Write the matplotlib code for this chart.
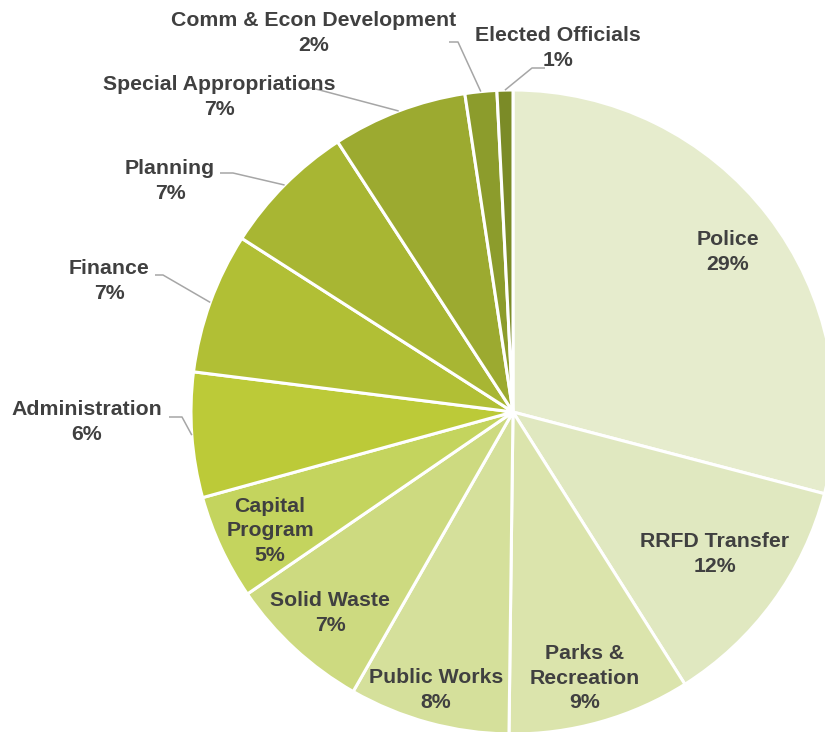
import numpy as np
import matplotlib
matplotlib.use("Agg")
import matplotlib.pyplot as plt

# departments, clockwise from 12 o'clock
departments = ["Police", "RRFD Transfer", "Parks &\nRecreation", "Public Works",
               "Solid Waste", "Capital\nProgram", "Administration", "Finance",
               "Planning", "Special Appropriations", "Comm & Econ Development",
               "Elected Officials"]
shares = [29.2, 12.0, 9.2, 8.1, 7.2, 5.3, 6.3, 7.1, 6.8, 6.8, 1.6, 0.8]
colors = ["#E6ECCD", "#E0E8C0", "#DBE4AC", "#D5E09B", "#CDDA80", "#C4D45E",
          "#BCCA38", "#B1BF35", "#A8B633", "#9CAA30", "#8C9C2C", "#7B8B27"]

W, H = 825, 732
cx, cy, R = 513, 412, 322   # pie centre / radius in image pixels (y down)

# label layout in image pixels: (text x, text y)
label_pos = [(728, 252), (715, 554), (585, 678), (436, 690), (330, 613), (270, 531),
             (87, 422), (109, 281), (170, 181), (219, 97), (314, 33), (558, 48)]
# leader lines for outside labels: (start x, elbow x, y)
leaders = [None] * 6 + [(169, 182, 417), (155, 163, 275), (220, 233, 173),
                        (300, 312, 88), (449, 458, 42), (545, 532, 68)]

fig = plt.figure(figsize=(W / 100, H / 100), dpi=100)
ax = fig.add_axes([0, 0, 1, 1])

total = sum(shares)
wedges, _ = ax.pie(shares, colors=colors, startangle=90, counterclock=False,
                   center=(cx, H - cy), radius=R,
                   wedgeprops=dict(edgecolor="white", linewidth=2.2))
ax.set_xlim(0, W)
ax.set_ylim(0, H)
ax.set_aspect("equal")
ax.axis("off")

txt = dict(ha="center", va="center", fontsize=15.3, fontweight="bold",
           color="#404040", family=["Liberation Sans", "DejaVu Sans"],
           linespacing=1.38)

for w, name, val, pos, ld in zip(wedges, departments, shares, label_pos, leaders):
    pct = round(val / total * 100)
    tx, ty = pos
    ax.text(tx, H - ty, f"{name}\n{pct}%", **txt)
    if ld is not None:
        xa, xb, ly = ld
        mid = np.deg2rad((w.theta1 + w.theta2) / 2)
        px = cx + R * np.cos(mid)
        py = (H - cy) + R * np.sin(mid)
        ax.plot([xa, xb, px], [H - ly, H - ly, py], color="#A6A6A6", lw=1.1,
                solid_capstyle="butt")

fig.savefig("out.png", dpi=100)
